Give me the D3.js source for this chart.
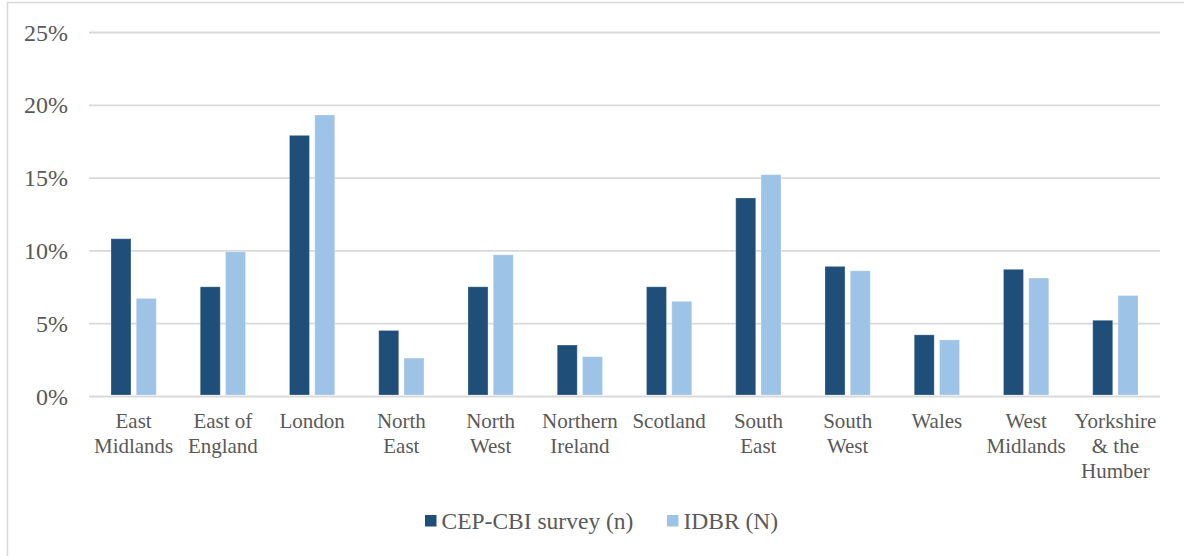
<!DOCTYPE html>
<html>
<head>
<meta charset="utf-8">
<script src="https://cdn.jsdelivr.net/npm/d3@7"></script>
<style>
  html, body { margin: 0; padding: 0; background: #fff; }
  svg { display: block; }
</style>
</head>
<body>
<script>
// Share of firms by region: survey sample vs. business register
const regions = [
  ["East", "Midlands"], ["East of", "England"], ["London"], ["North", "East"],
  ["North", "West"], ["Northern", "Ireland"], ["Scotland"], ["South", "East"],
  ["South", "West"], ["Wales"], ["West", "Midlands"], ["Yorkshire", "& the", "Humber"]
];
const surveyShare = [10.8, 7.5, 17.9, 4.5, 7.5, 3.5, 7.5, 13.6, 8.9, 4.2, 8.7, 5.2];
const idbrShare   = [6.7, 9.9, 19.3, 2.6, 9.7, 2.7, 6.5, 15.2, 8.6, 3.85, 8.1, 6.9];
const seriesNames = ["CEP-CBI survey (n)", "IDBR (N)"];
const seriesColors = ["#1F4E79", "#9DC3E6"];
const yTicks = [0, 5, 10, 15, 20, 25];

const W = 1184, H = 556;
const plot = { left: 89, right: 1160, top: 32, bottom: 396 };
const serif = "'Liberation Serif', 'Times New Roman', Times, serif";

const svg = d3.select("body").append("svg").attr("width", W).attr("height", H)
  .attr("font-family", serif);

// chart frame (continues past the right and bottom edges)
svg.append("path")
  .attr("d", `M7.5,${H + 2} L7.5,2.5 L${W + 2},2.5`)
  .attr("fill", "none").attr("stroke", "#D9D9D9").attr("stroke-width", 1.5);

const x = d3.scaleBand().domain(d3.range(regions.length)).range([plot.left, plot.right]).paddingInner(0).paddingOuter(0);
const xs = d3.scaleBand().domain([0, 1]).range([0, x.bandwidth()]).paddingInner(0.21).paddingOuter(0.87);
const y = d3.scaleLinear().domain([0, 25]).range([plot.bottom, plot.top]);

// gridlines and y tick labels
const yAxis = d3.axisLeft(y).tickValues(yTicks).tickFormat(d => d + "%")
  .tickSize(-(plot.right - plot.left)).tickPadding(21);
const gy = svg.append("g").attr("transform", `translate(${plot.left},0)`).call(yAxis);
gy.attr("font-family", null);
gy.select(".domain").remove();
gy.selectAll(".tick line").attr("stroke", "#D9D9D9").attr("stroke-width", 1.8);
gy.selectAll(".tick text")
  .attr("fill", "#595959")
  .style("font-family", serif)
  .style("font-size", "24px")
  .attr("dy", "0.34em");

// bars
const series = [surveyShare, idbrShare];
series.forEach((vals, si) => {
  svg.append("g").selectAll("rect")
    .data(vals)
    .join("rect")
    .attr("x", (d, i) => x(i) + xs(si))
    .attr("width", xs.bandwidth())
    .attr("y", d => y(d))
    .attr("height", d => y(0) - y(d) - 1)
    .attr("fill", seriesColors[si])
    .attr("stroke", "#ffffff")
    .attr("stroke-opacity", 0.25)
    .attr("stroke-width", 1);
});

// category labels
const xAxis = d3.axisBottom(x).tickSize(0).tickFormat(() => "");
const gx = svg.append("g").attr("transform", `translate(0,${plot.bottom})`).call(xAxis);
gx.attr("font-family", null);
gx.select(".domain").remove();
gx.selectAll(".tick").each(function (d) {
  const t = d3.select(this).append("text")
    .attr("text-anchor", "middle")
    .attr("fill", "#595959")
    .style("font-family", serif)
    .style("font-size", "21px");
  regions[d].forEach((line, k) => {
    t.append("tspan").attr("x", 0).attr("y", 32 + k * 25).text(line);
  });
});

// legend
const legendItems = [{ x: 425, i: 0 }, { x: 667, i: 1 }];
const lg = svg.append("g");
legendItems.forEach(({ x: lx, i }) => {
  lg.append("rect").attr("x", lx).attr("y", 515).attr("width", 11.5).attr("height", 11.5).attr("fill", seriesColors[i]);
  lg.append("text").attr("x", lx + 16.5).attr("y", 529)
    .attr("fill", "#595959")
    .style("font-family", serif)
    .style("font-size", "23.5px")
    .text(seriesNames[i]);
});
</script>
</body>
</html>
